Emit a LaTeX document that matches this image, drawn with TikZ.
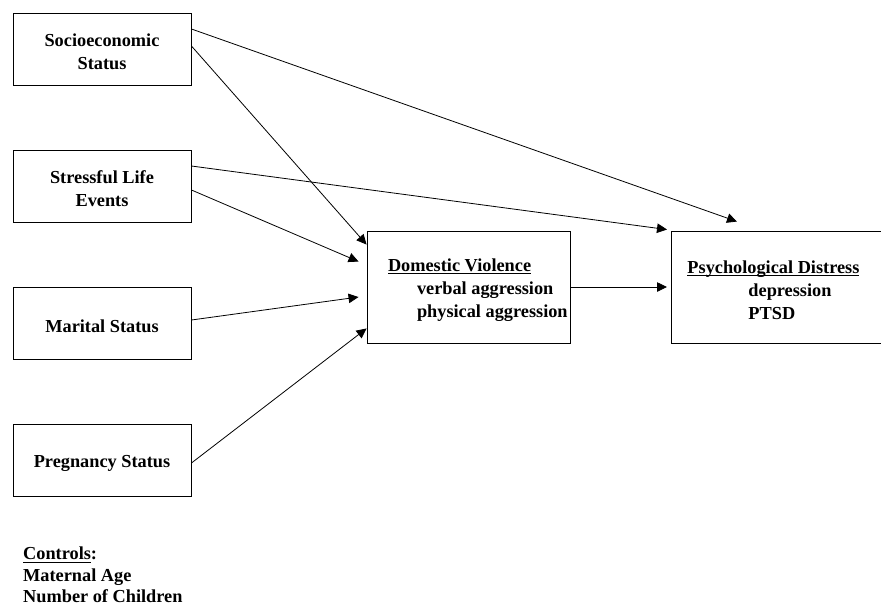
\documentclass[tikz,border=0pt]{standalone}
\usepackage{fontspec}
\setmainfont{Liberation Serif}
\usepackage{tikz}
\usetikzlibrary{arrows.meta,positioning,calc}
\newcommand{\undl}[1]{\setbox0=\hbox{#1}\rlap{\rule[-3pt]{\wd0}{1pt}}\box0}

\begin{document}
\begin{tikzpicture}[
    x=1pt, y=-1pt,
    var/.style={rectangle, draw, line width=0.9pt, minimum width=178pt,
                minimum height=72pt, text width=160pt, align=flush center,
                execute at begin node={\rule{0pt}{18.5pt}},
                font=\fontsize{18.3}{23}\selectfont\bfseries},
    big/.style={rectangle, draw, line width=0.9pt, minimum height=112pt,
                align=flush left, execute at begin node={\rule{0pt}{18.5pt}},
                font=\fontsize{18.3}{23}\selectfont\bfseries},
    arr/.style={-{Triangle[length=10pt,width=9.5pt]}, line width=0.8pt},
    ctrl/.style={align=left, inner sep=0pt,
                 font=\fontsize{18.3}{21.5}\selectfont\bfseries},
  ]
  \path[use as bounding box, clip] (0,0) rectangle (881,606);

  % --- Predictors ---
  \node[var] (ses) at (102,49) {Socioeconomic\\Status};
  \node[var] (sle) at (102,186) {Stressful Life\\Events};
  \node[var] (mar) at (102,323) {Marital Status};
  \node[var] (preg) at (102,460) {Pregnancy Status};

  % --- Mediator and outcome ---
  \node[big, text width=203pt, inner xsep=0pt] (dv) at (468.5,287)
    {\hspace*{21pt}\undl{Domestic Violence}\\
     \hspace*{50pt}verbal aggression\\
     \hspace*{50pt}physical aggression};
  \node[big, text width=200pt, inner xsep=16pt, anchor=west] (pd) at (671,287)
    {\undl{Psychological Distress}\\
     \hspace*{61pt}depression\\
     \hspace*{61pt}PTSD};

  % --- Paths ---
  \draw[arr] ([shift={(0,-20)}]ses.east) -- ([shift={(66,-9)}]pd.north west);
  \draw[arr] ([shift={(0,-3)}]ses.east) -- ([shift={(0,14)}]dv.north west);
  \draw[arr] ([shift={(0,-20)}]sle.east) -- ([shift={(-4,-1)}]pd.north west);
  \draw[arr] ([shift={(0,4)}]sle.east) -- ([shift={(-8,31)}]dv.north west);
  \draw[arr] ([shift={(0,-3)}]mar.east) -- ([shift={(-8,10)}]dv.west);
  \draw[arr] ([shift={(0,3)}]preg.east) -- ([shift={(0,-15)}]dv.south west);
  \draw[arr] (dv.east) -- ([shift={(-4,0)}]pd.west);

  % --- Controls ---
  \node[ctrl, anchor=north west] (ctrl) at (23,547)
    {\undl{Controls}:\\Maternal Age\\Number of Children};
\end{tikzpicture}
\end{document}
